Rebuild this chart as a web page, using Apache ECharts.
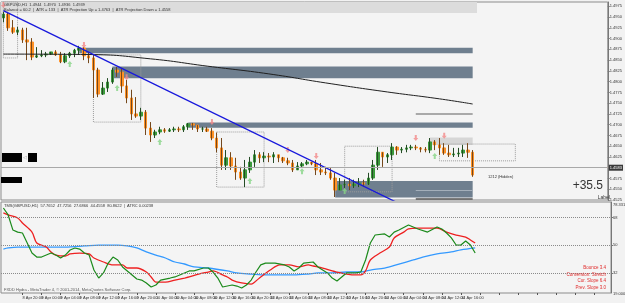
<!DOCTYPE html>
<html>
<head>
<meta charset="utf-8">
<script src="https://cdn.jsdelivr.net/npm/echarts@6/dist/echarts.min.js"></script>
<style>
  html, body { margin: 0; padding: 0; background: #f2f2f2; }
  #chart { width: 625px; height: 303px; }
</style>
</head>
<body>
<div id="chart"></div>
<script>
// time labels under the indicator pane, one every 4 bars
var tickLabels = ['8 Apr 2015', '8 Apr 20:00', '9 Apr 00:00', '9 Apr 04:00', '9 Apr 08:00', '9 Apr 12:00',
    '9 Apr 16:00', '9 Apr 20:00', '10 Apr 00:00', '10 Apr 04:00', '10 Apr 08:00', '10 Apr 12:00',
    '10 Apr 16:00', '10 Apr 20:00', '13 Apr 00:00', '13 Apr 04:00', '13 Apr 08:00', '13 Apr 12:00',
    '13 Apr 16:00', '13 Apr 20:00', '14 Apr 00:00', '14 Apr 04:00', '14 Apr 08:00', '14 Apr 12:00',
    '14 Apr 16:00'];

// H1 bars
var opens = [1.4948,1.4957,1.4925,1.4915,1.4920,1.4897,1.4892,1.4857,1.4860,1.4862,
    1.4864,1.4869,1.4862,1.4846,1.4860,1.4866,1.4873,1.4878,1.4860,1.4855,
    1.4827,1.4771,1.4785,1.4799,1.4827,1.4822,1.4790,1.4762,1.4725,1.4720,
    1.4729,1.4692,1.4676,1.4683,1.4688,1.4685,1.4688,1.4690,1.4688,1.4695,
    1.4702,1.4699,1.4690,1.4690,1.4685,1.4669,1.4646,1.4606,1.4623,1.4604,
    1.4590,1.4576,1.4595,1.4613,1.4630,1.4623,1.4627,1.4625,1.4630,1.4623,
    1.4616,1.4611,1.4595,1.4604,1.4609,1.4613,1.4609,1.4595,1.4590,1.4588,
    1.4576,1.4548,1.4560,1.4562,1.4558,1.4562,1.4565,1.4562,1.4576,1.4606,
    1.4636,1.4625,1.4630,1.4648,1.4641,1.4643,1.4646,1.4648,1.4646,1.4643,
    1.4641,1.4660,1.4653,1.4646,1.4634,1.4630,1.4632,1.4634,1.4641,1.4636];
var closes = [1.4957,1.4925,1.4915,1.4920,1.4897,1.4892,1.4857,1.4860,1.4862,1.4864,
    1.4869,1.4862,1.4846,1.4860,1.4866,1.4873,1.4878,1.4860,1.4855,1.4827,
    1.4771,1.4785,1.4799,1.4827,1.4822,1.4790,1.4762,1.4725,1.4720,1.4729,
    1.4692,1.4676,1.4683,1.4688,1.4685,1.4688,1.4690,1.4688,1.4695,1.4702,
    1.4699,1.4690,1.4690,1.4685,1.4669,1.4646,1.4606,1.4623,1.4604,1.4590,
    1.4576,1.4595,1.4613,1.4630,1.4623,1.4627,1.4625,1.4630,1.4623,1.4616,
    1.4611,1.4595,1.4604,1.4609,1.4613,1.4609,1.4595,1.4590,1.4588,1.4576,
    1.4548,1.4560,1.4562,1.4558,1.4562,1.4565,1.4562,1.4576,1.4606,1.4636,
    1.4625,1.4630,1.4648,1.4641,1.4643,1.4646,1.4648,1.4646,1.4643,1.4641,
    1.4660,1.4653,1.4646,1.4634,1.4630,1.4632,1.4634,1.4641,1.4636,1.4583];
var highs = [1.4962,1.4962,1.4943,1.4927,1.4925,1.4925,1.4901,1.4880,1.4873,1.4869,
    1.4869,1.4873,1.4869,1.4866,1.4869,1.4876,1.4883,1.4880,1.4869,1.4862,
    1.4832,1.4799,1.4808,1.4832,1.4834,1.4832,1.4804,1.4781,1.4764,1.4739,
    1.4734,1.4706,1.4688,1.4695,1.4692,1.4692,1.4695,1.4695,1.4699,1.4704,
    1.4704,1.4699,1.4695,1.4695,1.4692,1.4681,1.4669,1.4641,1.4636,1.4623,
    1.4602,1.4618,1.4625,1.4641,1.4636,1.4636,1.4634,1.4636,1.4630,1.4625,
    1.4623,1.4618,1.4613,1.4613,1.4618,1.4613,1.4618,1.4611,1.4602,1.4599,
    1.4588,1.4576,1.4572,1.4576,1.4572,1.4576,1.4572,1.4588,1.4618,1.4648,
    1.4636,1.4634,1.4657,1.4650,1.4648,1.4653,1.4653,1.4653,1.4648,1.4648,
    1.4669,1.4664,1.4669,1.4657,1.4653,1.4646,1.4646,1.4653,1.4657,1.4641];
var lows = [1.4938,1.4918,1.4911,1.4908,1.4890,1.4850,1.4850,1.4855,1.4857,1.4857,
    1.4862,1.4860,1.4843,1.4843,1.4855,1.4857,1.4862,1.4850,1.4843,1.4762,
    1.4764,1.4769,1.4776,1.4795,1.4811,1.4774,1.4750,1.4711,1.4716,1.4711,
    1.4676,1.4660,1.4669,1.4678,1.4681,1.4683,1.4683,1.4683,1.4683,1.4688,
    1.4688,1.4683,1.4683,1.4683,1.4664,1.4636,1.4595,1.4595,1.4595,1.4572,
    1.4572,1.4555,1.4588,1.4602,1.4611,1.4613,1.4613,1.4611,1.4613,1.4611,
    1.4606,1.4590,1.4595,1.4602,1.4606,1.4606,1.4583,1.4583,1.4583,1.4572,
    1.4532,1.4548,1.4553,1.4548,1.4553,1.4555,1.4555,1.4560,1.4572,1.4595,
    1.4602,1.4611,1.4618,1.4630,1.4634,1.4636,1.4641,1.4641,1.4636,1.4636,
    1.4634,1.4641,1.4630,1.4630,1.4625,1.4625,1.4625,1.4625,1.4623,1.4579];

// slow moving average [bar, price]
var maLine = [[0,1.4864],[18,1.4863],[31,1.4853],[43,1.4836],[56,1.4818],[68,1.4797],[81,1.4776],[92,1.4760],[99,1.4748]];
// blue trendline [bar, price]
var trendLine = [[0,1.4965],[84,1.4514]];
// signal arrows [bar, price]
var sellArrows = [[0,1.4978],[17,1.4885],[26,1.4810],[44,1.4706],[60,1.4641],[66,1.4627],[87,1.4669],[93,1.4674]];
var buyArrows = [[14,1.4841],[24,1.4785],[33,1.4660],[52,1.4569],[63,1.4592],[72,1.4546],[91,1.4627]];

// indicator lines [bar, value]
var greenLine = [[0,74.1],[1,69.6],[2,59.8],[3,58.5],[4,57.9],[5,51.4],[6,44.9],[7,42.3],[8,42.3],[9,43.6],
    [10,44.9],[11,43.6],[12,41.7],[13,43.6],[14,46.9],[15,48.2],[16,47.5],[17,44.9],[18,43.6],[19,33.9],
    [20,28.7],[21,32.0],[22,38.4],[23,42.3],[24,40.4],[25,35.9],[27,30.7],[28,28.1],[29,27.4],[30,25.5],
    [31,22.9],[32,24.2],[33,27.4],[35,28.7],[36,29.4],[38,32.0],[39,33.3],[40,33.3],[42,35.2],[43,35.2],
    [44,32.6],[45,28.7],[46,22.9],[48,24.2],[49,23.5],[50,22.2],[51,24.2],[52,27.4],[53,32.6],[54,37.2],
    [55,38.4],[57,38.4],[59,37.2],[60,35.9],[61,33.3],[62,35.2],[63,38.4],[65,39.1],[66,35.9],[68,32.0],
    [69,28.7],[70,26.8],[71,29.4],[72,32.0],[74,32.0],[75,32.6],[76,40.4],[77,51.4],[78,56.6],[80,57.3],
    [81,55.3],[82,58.5],[83,59.8],[85,63.1],[86,61.8],[87,60.5],[89,58.5],[91,61.8],[92,60.5],[93,57.9],
    [94,54.7],[95,50.1],[96,50.1],[97,52.7],[98,50.1],[99,44.9]];
var redLine = [[0,70.9],[1,69.6],[3,67.6],[4,64.4],[6,58.5],[7,51.4],[9,48.8],[10,45.6],[11,43.6],[13,43.0],
    [14,44.3],[16,44.9],[18,44.3],[19,41.7],[21,39.1],[23,37.2],[25,37.2],[26,35.2],[28,35.2],[30,32.6],
    [31,29.4],[32,26.1],[34,26.1],[36,27.4],[38,28.7],[39,29.4],[41,31.3],[43,32.6],[44,33.3],[46,30.7],
    [47,29.4],[48,27.4],[50,25.5],[52,24.8],[53,26.8],[54,29.4],[56,33.9],[58,37.2],[60,37.2],[62,35.9],
    [64,37.2],[65,36.5],[67,35.2],[69,33.3],[70,32.6],[72,31.3],[74,30.7],[75,30.7],[76,33.3],[77,40.4],
    [79,44.9],[81,48.8],[82,54.7],[84,58.5],[85,60.5],[87,61.1],[89,61.1],[91,61.1],[93,58.5],[95,56.6],
    [97,55.3],[98,53.4],[99,51.4]];
var blueLine = [[0,47.5],[1,48.2],[3,48.8],[6,48.8],[10,48.8],[13,48.8],[17,49.5],[20,50.1],[24,50.1],[26,49.5],
    [28,48.2],[30,45.6],[32,43.6],[34,41.7],[36,39.1],[38,37.8],[40,35.9],[43,35.2],[47,33.3],[49,32.0],
    [52,31.3],[55,30.7],[58,30.7],[61,30.7],[64,31.3],[66,32.0],[69,32.0],[72,32.6],[75,32.6],[77,33.9],
    [80,35.2],[83,37.8],[86,40.4],[88,42.3],[91,44.3],[94,45.6],[96,46.9],[99,48.2]];
var levels = [32, 50, 68];

var FONT = 'Liberation Sans';
var SLOTS = 128;
var cats = [];
for (var i = 0; i < SLOTS; i++) cats.push(String(i));

var bars = opens.map(function (o, i) { return [o, closes[i], lows[i], highs[i]]; });

var ZONE = '#6f7f8f';
function zone(x1, p1, x2, p2, color) {
    return [{ xAxis: x1, yAxis: p1, itemStyle: { color: color } }, { xAxis: x2, yAxis: p2 }];
}
function box(x1, p1, x2, p2) {
    return [{ xAxis: x1, yAxis: p1, itemStyle: { color: 'rgba(0,0,0,0)', borderColor: '#9c9c9c', borderWidth: 1, borderType: 'dotted' } },
        { xAxis: x2, yAxis: p2 }];
}
function seg(x1, x2, p, color, w) {
    return [{ coord: [x1, p], lineStyle: { color: color, width: w, type: 'solid' } }, { coord: [x2, p] }];
}

var arrowPath = 'path://M5,0 L10,5 L7,5 L7,10 L3,10 L3,5 L0,5 Z';

var chart = echarts.init(document.getElementById('chart'));
chart.setOption({
    animation: false,
    backgroundColor: '#f2f2f2',
    textStyle: { fontFamily: FONT },
    grid: [
        { left: 1, right: 14, top: 2, height: 198, show: true, backgroundColor: '#f4f4f4', borderColor: '#8c8c8c', borderWidth: 1 },
        { left: 1, right: 14, top: 202, height: 91, show: true, backgroundColor: '#f4f4f4', borderColor: '#8c8c8c', borderWidth: 1 }
    ],
    xAxis: [
        { type: 'category', gridIndex: 0, data: cats, axisLine: { show: false }, axisTick: { show: false }, axisLabel: { show: false } },
        { type: 'category', gridIndex: 1, data: cats, axisLine: { show: false },
          axisTick: { show: true, interval: 3, alignWithLabel: true, length: 2, lineStyle: { color: '#555' } },
          axisLabel: { interval: 3, align: 'left', margin: 3, fontSize: 4, color: '#333', fontFamily: FONT,
              formatter: function (v, i) { return tickLabels[i / 4] || ''; } } }
    ],
    yAxis: [
        { type: 'value', gridIndex: 0, position: 'right', min: 1.4525, max: 1.4985, interval: 0.0025,
          splitLine: { show: false }, axisLine: { show: true, lineStyle: { color: '#777' } },
          axisTick: { show: true, length: 2, lineStyle: { color: '#777' } },
          axisLabel: { fontSize: 4, color: '#333', margin: 2, showMaxLabel: false, fontFamily: FONT,
              formatter: function (v) { return v.toFixed(4); } } },
        { type: 'value', gridIndex: 1, position: 'right', min: 19, max: 78,
          splitLine: { show: false }, axisLine: { show: true, lineStyle: { color: '#777' } },
          axisTick: { show: true, length: 2, customValues: levels, lineStyle: { color: '#777' } },
          axisLabel: { fontSize: 4, color: '#333', margin: 2, customValues: levels, fontFamily: FONT } }
    ],
    series: [
        {
            type: 'line', xAxisIndex: 0, yAxisIndex: 0, data: maLine, symbol: 'none', smooth: true,
            lineStyle: { color: '#202020', width: 1 },
            markArea: {
                silent: true, label: { show: false },
                data: [
                    zone(16, 1.4879, 99, 1.4866, ZONE),
                    zone(23, 1.4835, 99, 1.4808, ZONE),
                    zone(39, 1.4705, 99, 1.4693, ZONE),
                    zone(70, 1.4569, 99, 1.4531, ZONE),
                    zone(90, 1.4670, 99, 1.4653, '#d6d6d6'),
                    box(0, 1.4985, 3, 1.4855),
                    box(19, 1.4862, 29, 1.4706),
                    box(45, 1.4683, 55, 1.4555),
                    box(72, 1.4650, 82, 1.4544),
                    box(92, 1.4655, 108, 1.4616)
                ]
            },
            markLine: {
                silent: true, symbol: 'none', label: { show: false },
                data: [
                    { yAxis: 1.4623, lineStyle: { color: '#eaa070', type: [4, 4], width: 1 } },
                    { yAxis: 1.4623, lineStyle: { color: '#6cc06c', type: [2, 6], dashOffset: -5, width: 1 } },
                    { yAxis: 1.4569, lineStyle: { color: '#f2a382', type: [4, 2, 1, 2], width: 1 } },
                    { yAxis: 1.4583, lineStyle: { color: '#a8a8a8', type: 'solid', width: 1 },
                      label: { show: true, position: 'end', formatter: '1.4583', color: '#fff', backgroundColor: '#3a3a3a',
                               fontSize: 4, padding: [1, 1], distance: 1 } },
                    seg(87, 99, 1.4725, '#a9a9a9', 2),
                    seg(87, 99, 1.4548, '#a4afba', 1),
                    seg(87, 99, 1.4527, '#555555', 1.5)
                ]
            }
        },
        {
            type: 'line', xAxisIndex: 0, yAxisIndex: 0, data: trendLine, symbol: 'none', clip: true,
            lineStyle: { color: '#1818dc', width: 1.3 }
        },
        {
            type: 'candlestick', xAxisIndex: 0, yAxisIndex: 0, data: bars, barWidth: 3,
            itemStyle: { color: '#3c9a3c', color0: '#ff9226', borderColor: '#3c9a3c', borderColor0: '#ff9226', borderWidth: 1 }
        },
        {
            type: 'candlestick', xAxisIndex: 0, yAxisIndex: 0, data: bars, barWidth: 1,
            itemStyle: { color: '#151515', color0: '#151515', borderColor: '#151515', borderColor0: '#151515', borderWidth: 0.6 }
        },
        {
            type: 'scatter', xAxisIndex: 0, yAxisIndex: 0, data: sellArrows, symbol: arrowPath, symbolSize: [5, 6],
            symbolRotate: 180, itemStyle: { color: '#f28a8a' }
        },
        {
            type: 'scatter', xAxisIndex: 0, yAxisIndex: 0, data: buyArrows, symbol: arrowPath, symbolSize: [5, 6],
            itemStyle: { color: '#86d486' }
        },
        {
            type: 'line', xAxisIndex: 1, yAxisIndex: 1, data: blueLine, symbol: 'none', smooth: 0.3,
            lineStyle: { color: '#3399ff', width: 1.3 },
            markLine: {
                silent: true, symbol: 'none', label: { show: false },
                lineStyle: { color: '#8a8a8a', type: 'dotted', width: 1 },
                data: levels.map(function (v) { return { yAxis: v }; })
            }
        },
        {
            type: 'line', xAxisIndex: 1, yAxisIndex: 1, data: redLine, symbol: 'none', smooth: 0.3,
            lineStyle: { color: '#ee2020', width: 1.3 }
        },
        {
            type: 'line', xAxisIndex: 1, yAxisIndex: 1, data: greenLine, symbol: 'none',
            lineStyle: { color: '#1b8a1b', width: 1.2 }
        }
    ],
    graphic: [
        { type: 'rect', shape: { x: 1, y: 2, width: 476, height: 11 }, style: { fill: '#dcdcdc' }, z: 1 },
        { type: 'text', x: 4, y: 3, z: 10, style: { text: 'GBPUSD,H1  1.4944  1.4970  1.4936  1.4939', fontSize: 4, fill: '#333', fontFamily: FONT } },
        { type: 'text', x: 4, y: 8, z: 10, style: { text: 'Balance = 60.2  |  ATR = 133  |  ATR Projection Up = 1.4763  |  ATR Projection Down = 1.4558', fontSize: 4, fill: '#333', fontFamily: FONT } },
        { type: 'rect', shape: { x: 2, y: 153, width: 20, height: 9 }, style: { fill: '#000' }, z: 10 },
        { type: 'text', x: 23, y: 155, z: 10, style: { text: '◁', fontSize: 5, fill: '#999' } },
        { type: 'rect', shape: { x: 28, y: 153, width: 9, height: 9 }, style: { fill: '#000' }, z: 10 },
        { type: 'rect', shape: { x: 1, y: 177, width: 21, height: 6 }, style: { fill: '#000' }, z: 10 },
        { type: 'text', x: 488, y: 175, z: 10, style: { text: '1212 (Hidden)', fontSize: 4, fill: '#333', fontFamily: FONT } },
        { type: 'text', x: 603, y: 186, z: 10, style: { text: '+35.5', fontSize: 12, fill: '#333', align: 'right', verticalAlign: 'middle', fontFamily: FONT } },
        { type: 'text', x: 610, y: 198, z: 10, style: { text: 'Label', fontSize: 5, fill: '#333', align: 'right', verticalAlign: 'middle', fontFamily: FONT } },
        { type: 'text', x: 4, y: 204, z: 10, style: { text: 'TMS(GBPUSD,H1)  57.7652  47.7256  27.6866  44.4558  80.8622  |  ATRC 0.00238', fontSize: 4, fill: '#333', fontFamily: FONT } },
        { type: 'text', x: 613, y: 203, z: 10, style: { text: '78.331', fontSize: 4, fill: '#333', fontFamily: FONT } },
        { type: 'text', x: 613, y: 292, z: 10, style: { text: '19.000', fontSize: 4, fill: '#333', fontFamily: FONT } },
        { type: 'text', x: 606, y: 268, z: 10, style: { text: 'Bounce 3.4', fontSize: 4.5, fill: '#e02a2a', align: 'right', verticalAlign: 'middle', fontFamily: FONT } },
        { type: 'text', x: 606, y: 275, z: 10, style: { text: 'Conversion: Stretch', fontSize: 4.5, fill: '#e02a2a', align: 'right', verticalAlign: 'middle', fontFamily: FONT } },
        { type: 'text', x: 606, y: 281, z: 10, style: { text: 'Cur. Slope 6.4', fontSize: 4.5, fill: '#e02a2a', align: 'right', verticalAlign: 'middle', fontFamily: FONT } },
        { type: 'text', x: 606, y: 288, z: 10, style: { text: 'Prev. Slope 3.0', fontSize: 4.5, fill: '#e02a2a', align: 'right', verticalAlign: 'middle', fontFamily: FONT } },
        { type: 'text', x: 4, y: 288, z: 10, style: { text: 'FXDD Hydra - MetaTrader 4, \u00a9 2001-2014, MetaQuotes Software Corp.', fontSize: 4, fill: '#555', fontFamily: FONT } }
    ]
});
</script>
</body>
</html>
